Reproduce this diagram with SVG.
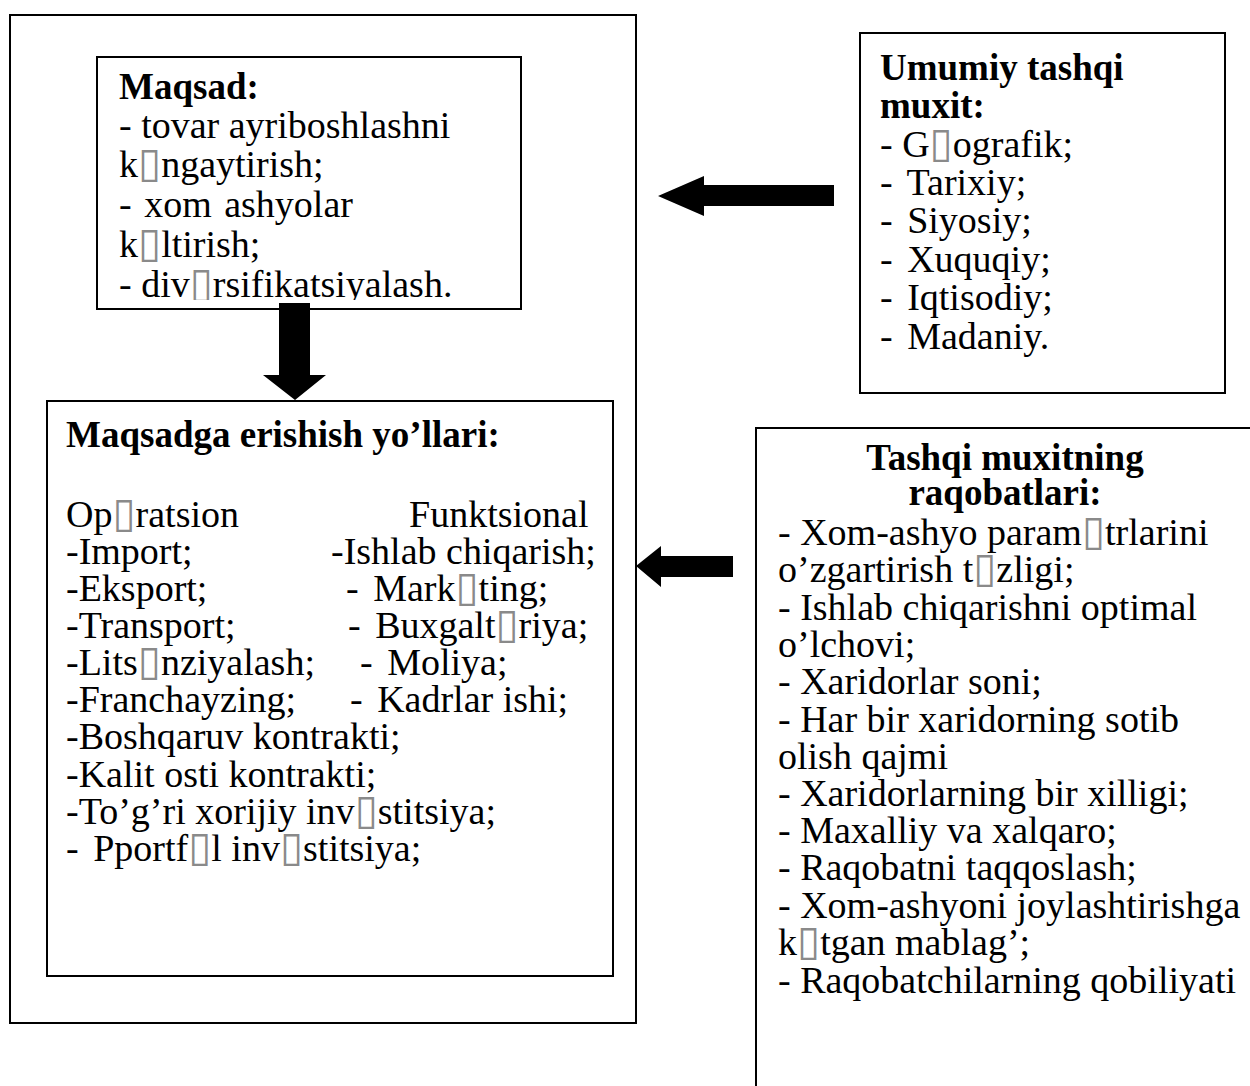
<svg xmlns="http://www.w3.org/2000/svg" width="1250" height="1086" viewBox="0 0 1250 1086">
<style>
.box{fill:#fff;stroke:#000;stroke-width:2}
.t{font-family:"Liberation Serif","Times New Roman",serif;font-size:38px;fill:#000}
.b{font-weight:bold;font-size:37px}
.q{fill:#8a8a8a;font-family:"DejaVu Sans",sans-serif;font-size:42px}
.arr{fill:#000;stroke:none}
</style>
<defs>
<clipPath id="clipM"><rect x="97" y="57" width="424" height="243"/></clipPath>
</defs>
<rect width="1250" height="1086" fill="#fff"/>
<g id="outer"><rect class="box" x="10" y="15" width="626" height="1008"/></g>
<g id="maqsad">
<rect class="box" x="97" y="57" width="424" height="252"/>
<g clip-path="url(#clipM)">
<text class="t" x="119" y="99"><tspan class="b">Maqsad:</tspan></text>
<text class="t" x="119" y="138">- tovar ayriboshlashni</text>
<text class="t" x="119" y="177">k<tspan class="q">▯</tspan>ngaytirish;</text>
<text class="t" x="119" y="217" word-spacing="3">- xom ashyolar</text>
<text class="t" x="119" y="257">k<tspan class="q">▯</tspan>ltirish;</text>
<text class="t" x="119" y="297">- div<tspan class="q">▯</tspan>rsifikatsiyalash.</text>
</g>
</g>
<g id="umumiy">
<rect class="box" x="860" y="33" width="365" height="360"/>
<text class="t b" x="880" y="80">Umumiy tashqi</text>
<text class="t b" x="880" y="118">muxit:</text>
<text class="t" x="880" y="157">- G<tspan class="q">▯</tspan>ografik;</text>
<text class="t" x="880" y="195">- <tspan dx="5">Tarixiy;</tspan></text>
<text class="t" x="880" y="233">- <tspan dx="5">Siyosiy;</tspan></text>
<text class="t" x="880" y="272">- <tspan dx="5">Xuquqiy;</tspan></text>
<text class="t" x="880" y="310">- <tspan dx="5">Iqtisodiy;</tspan></text>
<text class="t" x="880" y="349">- <tspan dx="5">Madaniy.</tspan></text>
</g>
<g id="yollar">
<rect class="box" x="47" y="401" width="566" height="575"/>
<text class="t b" x="66" y="447">Maqsadga erishish yo’llari:</text>
<text class="t" x="66" y="527">Op<tspan class="q">▯</tspan>ratsion</text>
<text class="t" x="409" y="527">Funktsional</text>
<text class="t" x="66" y="564">-Import;</text>
<text class="t" x="331" y="564">-Ishlab chiqarish;</text>
<text class="t" x="66" y="601">-Eksport;</text>
<text class="t" x="346" y="601">- <tspan dx="5">Mark</tspan><tspan class="q">▯</tspan>ting;</text>
<text class="t" x="66" y="638">-Transport;</text>
<text class="t" x="348" y="638">- <tspan dx="5">Buxgalt</tspan><tspan class="q">▯</tspan>riya;</text>
<text class="t" x="66" y="675">-Lits<tspan class="q">▯</tspan>nziyalash;</text>
<text class="t" x="360" y="675">- <tspan dx="5">Moliya;</tspan></text>
<text class="t" x="66" y="712">-Franchayzing;</text>
<text class="t" x="350" y="712">- <tspan dx="5">Kadrlar ishi;</tspan></text>
<text class="t" x="66" y="749">-Boshqaruv kontrakti;</text>
<text class="t" x="66" y="787">-Kalit osti kontrakti;</text>
<text class="t" x="66" y="824">-To’g’ri xorijiy inv<tspan class="q">▯</tspan>stitsiya;</text>
<text class="t" x="66" y="861">- <tspan dx="5">Pportf</tspan><tspan class="q">▯</tspan>l inv<tspan class="q">▯</tspan>stitsiya;</text>
</g>
<g id="raqobat">
<rect class="box" x="756" y="428" width="600" height="800"/>
<text class="t b" x="1005" y="470" text-anchor="middle">Tashqi muxitning</text>
<text class="t b" x="1005" y="505" text-anchor="middle">raqobatlari:</text>
<text class="t" x="778" y="545">- Xom-ashyo param<tspan class="q">▯</tspan>trlarini</text>
<text class="t" x="778" y="582">o’zgartirish t<tspan class="q">▯</tspan>zligi;</text>
<text class="t" x="778" y="620">- Ishlab chiqarishni optimal</text>
<text class="t" x="778" y="657">o’lchovi;</text>
<text class="t" x="778" y="694">- Xaridorlar soni;</text>
<text class="t" x="778" y="732">- Har bir xaridorning sotib</text>
<text class="t" x="778" y="769">olish qajmi</text>
<text class="t" x="778" y="806">- Xaridorlarning bir xilligi;</text>
<text class="t" x="778" y="843">- Maxalliy va xalqaro;</text>
<text class="t" x="778" y="880">- Raqobatni taqqoslash;</text>
<text class="t" x="778" y="918">- Xom-ashyoni joylashtirishga</text>
<text class="t" x="778" y="955">k<tspan class="q">▯</tspan>tgan mablag’;</text>
<text class="t" x="778" y="993">- Raqobatchilarning qobiliyati</text>
</g>
<g id="connectors">
<polygon class="arr" points="279,303 310,303 310,375 326,375 295,400 263,375 279,375"/>
<polygon class="arr" points="834,185 834,206 704,206 704,216 658,196 704,176 704,185"/>
<polygon class="arr" points="733,556 733,577 661,577 661,587 636,566 661,546 661,556"/>
</g>
</svg>
